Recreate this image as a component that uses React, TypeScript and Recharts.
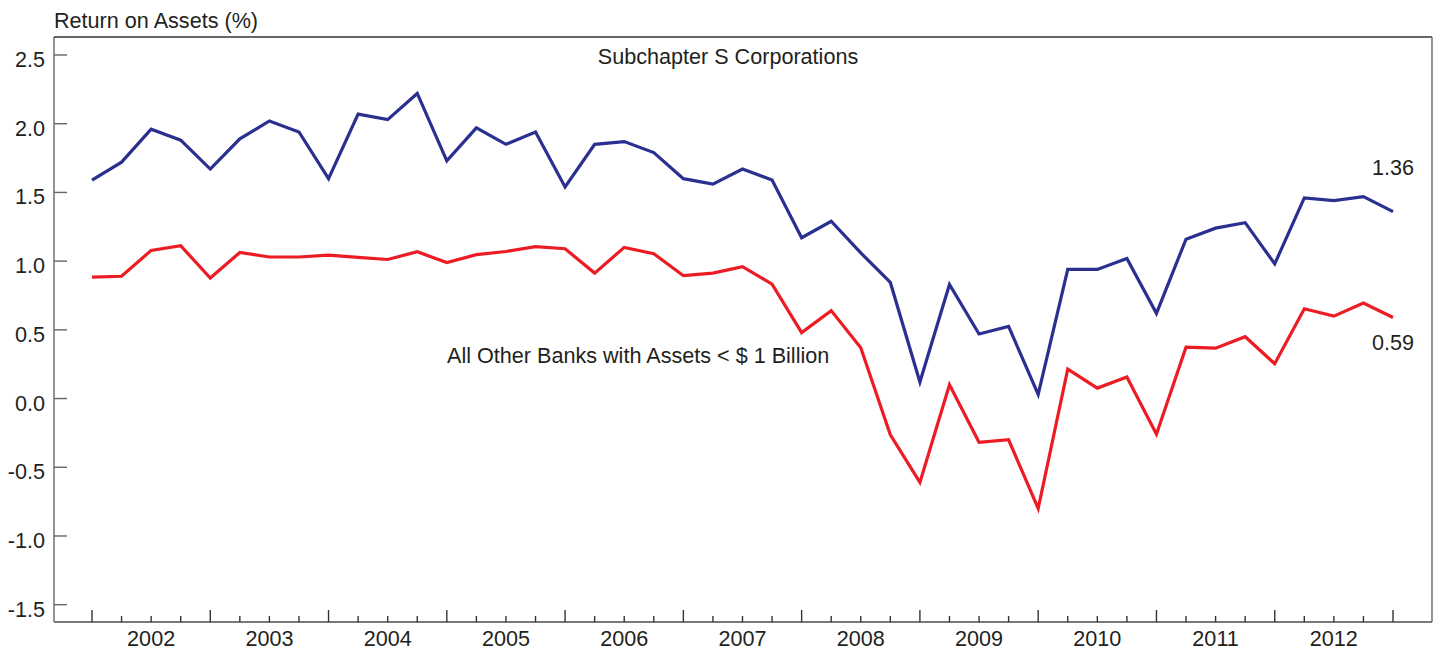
import { LabelList, Line, LineChart, XAxis, YAxis } from 'recharts';

/* ─────────────────────── data ─────────────────────── */

const YEARS = ['2002', '2003', '2004', '2005', '2006', '2007', '2008', '2009', '2010', '2011', '2012'];

// quarterly categories, starting with the last quarter of 2001
const QUARTERS = ['2001Q4', ...YEARS.flatMap((y) => [`${y}Q1`, `${y}Q2`, `${y}Q3`, `${y}Q4`])];

const SUBCHAPTER_S = [
  1.59, 1.72, 1.96, 1.88, 1.67, 1.89, 2.02, 1.94, 1.6, 2.07, 2.03, 2.22, 1.73, 1.97, 1.85,
  1.94, 1.54, 1.85, 1.87, 1.79, 1.6, 1.56, 1.67, 1.59, 1.17, 1.29, 1.06, 0.845, 0.12, 0.83,
  0.47, 0.525, 0.03, 0.94, 0.94, 1.02, 0.62, 1.16, 1.24, 1.28, 0.98, 1.46, 1.44, 1.47, 1.36,
];

const OTHER_BANKS = [
  0.884, 0.89, 1.078, 1.112, 0.877, 1.063, 1.03, 1.03, 1.044, 1.027, 1.012, 1.068, 0.99, 1.047,
  1.07, 1.105, 1.09, 0.913, 1.1, 1.054, 0.894, 0.913, 0.96, 0.833, 0.48, 0.64, 0.37, -0.264,
  -0.61, 0.1, -0.318, -0.3, -0.8, 0.214, 0.076, 0.156, -0.26, 0.374, 0.367, 0.45, 0.253, 0.653,
  0.6, 0.695, 0.59,
];

const Y_TICKS = [-1.5, -1.0, -0.5, 0.0, 0.5, 1.0, 1.5, 2.0, 2.5];

const data = QUARTERS.map((q, i) => ({ q, subS: SUBCHAPTER_S[i], other: OTHER_BANKS[i] }));

/* ─────────────────────── layout ─────────────────────── */

const W = 1439;
const H = 651;
const PLOT_LEFT = 54;
const PLOT_TOP = 37;
const PLOT_RIGHT = 1432;
const PLOT_BOTTOM = 622;

const FONT = "'Liberation Sans', Arial, Helvetica, sans-serif";
const FONT_SIZE = 21.6;
const TEXT = '#231f20';
const BLUE = '#2b3090';
const RED = '#ed1c24';

function XTick({ x, payload }: { x?: number; payload?: { value: string } }) {
  if (x == null || !payload) return null;
  const q = payload.value;
  const long = q.endsWith('Q4');
  return (
    <g>
      <line x1={x} x2={x} y1={PLOT_BOTTOM} y2={PLOT_BOTTOM - (long ? 12 : 6)} stroke="#333" strokeWidth={1.4} />
      {q.endsWith('Q2') && (
        <text x={x} y={646} textAnchor="middle" fontFamily={FONT} fontSize={FONT_SIZE} fill={TEXT}>
          {q.slice(0, 4)}
        </text>
      )}
    </g>
  );
}

function YTick({ y, payload }: { y?: number; payload?: { value: number } }) {
  if (y == null || !payload) return null;
  return (
    <g>
      <line x1={PLOT_LEFT} x2={PLOT_LEFT + 13} y1={y} y2={y} stroke="#666" strokeWidth={1.4} />
      <text x={45} y={y + 12} textAnchor="end" fontFamily={FONT} fontSize={FONT_SIZE} fill={TEXT}>
        {payload.value.toFixed(1)}
      </text>
    </g>
  );
}

// value printed next to the last point of a series
function endLabel(dy: number) {
  return (props: { x?: number; y?: number; value?: number; index?: number }) => {
    const { x, y, value, index } = props;
    if (index !== QUARTERS.length - 1 || x == null || y == null || value == null) return null;
    return (
      <text x={x + 21} y={y + dy} textAnchor="end" fontFamily={FONT} fontSize={FONT_SIZE} fill={TEXT}>
        {value.toFixed(2)}
      </text>
    );
  };
}

export default function App() {
  return (
    <div style={{ position: 'absolute', left: 0, top: 0, width: W, height: H, background: '#fff' }}>
      <LineChart
        width={W}
        height={H}
        data={data}
        margin={{ top: PLOT_TOP, right: W - PLOT_RIGHT, bottom: 0, left: 0 }}
      >
        <XAxis
          dataKey="q"
          height={H - PLOT_BOTTOM}
          interval={0}
          tickLine={false}
          axisLine={{ stroke: '#7a7a7a', strokeWidth: 2 }}
          tick={<XTick />}
          padding={{ left: 38, right: 39 }}
        />
        <YAxis
          type="number"
          width={PLOT_LEFT}
          domain={[-1.626, 2.631]}
          ticks={Y_TICKS}
          interval={0}
          tickLine={false}
          axisLine={{ stroke: '#666', strokeWidth: 1.4 }}
          tick={<YTick />}
        />
        <Line
          dataKey="subS"
          stroke={BLUE}
          strokeWidth={3.2}
          dot={false}
          activeDot={false}
          isAnimationActive={false}
        >
          <LabelList dataKey="subS" content={endLabel(-37)} />
        </Line>
        <Line
          dataKey="other"
          stroke={RED}
          strokeWidth={3.2}
          dot={false}
          activeDot={false}
          isAnimationActive={false}
        >
          <LabelList dataKey="other" content={endLabel(33)} />
        </Line>
      </LineChart>

      <svg
        width={W}
        height={H}
        style={{ position: 'absolute', left: 0, top: 0, pointerEvents: 'none' }}
        fontFamily={FONT}
        fontSize={FONT_SIZE}
        fill={TEXT}
      >
        {/* plot frame: top and right edges */}
        <line x1={PLOT_LEFT} x2={PLOT_RIGHT} y1={PLOT_TOP} y2={PLOT_TOP} stroke="#333" strokeWidth={1.4} />
        <line x1={PLOT_RIGHT} x2={PLOT_RIGHT} y1={PLOT_TOP} y2={PLOT_BOTTOM} stroke="#666" strokeWidth={1.4} />
        <text x={PLOT_LEFT} y={28}>Return on Assets (%)</text>
        <text x={728} y={64} textAnchor="middle">Subchapter S Corporations</text>
        <text x={447} y={363}>All Other Banks with Assets &lt; $ 1 Billion</text>
      </svg>
    </div>
  );
}
